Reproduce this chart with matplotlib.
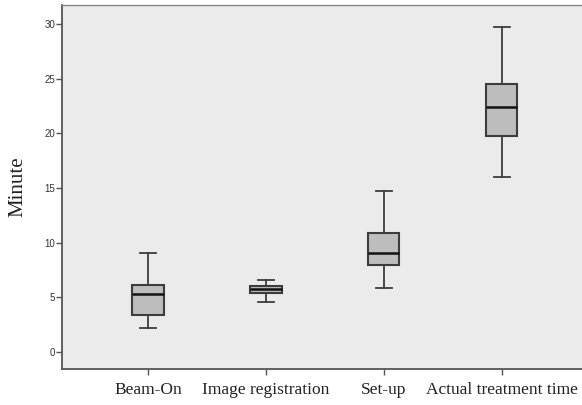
import matplotlib
matplotlib.use("Agg")
import matplotlib.pyplot as plt

categories = ["Beam-On", "Image registration", "Set-up", "Actual treatment time"]
# five-number summaries: low whisker, Q1, median, Q3, high whisker
whislo = [2.2, 4.57, 5.86, 16.0]
q1 = [3.36, 5.43, 7.99, 19.76]
medians = [5.28, 5.76, 9.09, 22.4]
q3 = [6.18, 6.07, 10.89, 24.5]
whishi = [9.03, 6.55, 14.73, 29.7]
yticks = [0, 5, 10, 15, 20, 25, 30]

stats = []
for i, name in enumerate(categories):
    stats.append({"label": name, "whislo": whislo[i], "q1": q1[i], "med": medians[i],
                  "q3": q3[i], "whishi": whishi[i], "fliers": []})

fig = plt.figure(figsize=(5.82, 4.05), dpi=100)
ax = fig.add_axes([62 / 582, 36 / 405, 1 - 62 / 582 + 0.01, 364 / 405])
ax.set_facecolor("#ebebeb")

edge = "#3c3c3c"
ax.bxp(stats, positions=[1, 2, 3, 4], widths=0.265, capwidths=0.14,
       patch_artist=True, showfliers=False,
       boxprops=dict(facecolor="#bdbdbd", edgecolor=edge, linewidth=1.5),
       whiskerprops=dict(color=edge, linewidth=1.3),
       capprops=dict(color=edge, linewidth=1.3),
       medianprops=dict(color="#111111", linewidth=1.8))

ax.set_xlim(0.27, 4.73)
ax.set_ylim(-1.55, 31.75)
ax.set_yticks(yticks)
ax.set_yticklabels([str(v) for v in yticks], family="Liberation Sans", fontsize=7, color="#333333")
ax.set_xticks([1, 2, 3, 4])
ax.set_xticklabels(categories, family="Liberation Serif", fontsize=12.5, color="#222222")
ax.tick_params(axis="y", length=4, width=1, color="#555555", pad=1)
ax.tick_params(axis="x", length=4, width=1, color="#555555", pad=5)
ax.set_ylabel("Minute", family="Liberation Serif", fontsize=15, color="#222222", labelpad=12)

for side in ["left", "bottom"]:
    ax.spines[side].set_color("#555555")
    ax.spines[side].set_linewidth(1.3)
ax.spines["top"].set_color("#888888")
ax.spines["top"].set_linewidth(1.0)
ax.spines["right"].set_visible(False)

fig.savefig("out.png", dpi=100)
